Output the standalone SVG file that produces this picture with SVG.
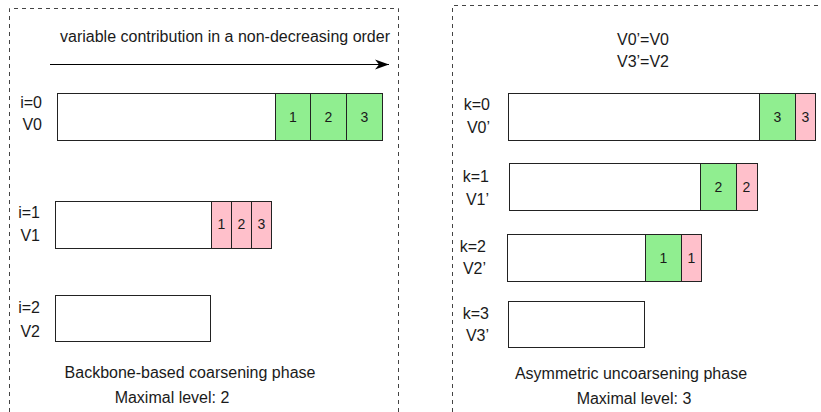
<svg xmlns="http://www.w3.org/2000/svg" width="821" height="412" viewBox="0 0 821 412">
<defs>
<marker id="arr" markerWidth="16" markerHeight="12" refX="14" refY="6" orient="auto" markerUnits="userSpaceOnUse">
<path d="M0,1 L14,6 L0,11 L4,6 Z" fill="#000"/>
</marker>
</defs>
<style>
text{font-family:"Liberation Sans",Arial,sans-serif;font-size:16px;fill:#1a1a1a}
.d{font-size:14px;text-anchor:middle}
.c{text-anchor:middle}
.e{text-anchor:end}
.w{fill:#fff;stroke:#222;stroke-width:1}
.g{fill:#90ee90;stroke:#222;stroke-width:1}
.p{fill:#ffc0cb;stroke:#222;stroke-width:1}
.frame{fill:none;stroke:#444;stroke-width:1;stroke-dasharray:4 4}
</style>
<rect width="821" height="412" fill="#fff"/>
<g id="left-panel">
<path class="frame" d="M9.5,420 V8.5 H398.5 V420"/>
<text x="60" y="42">variable contribution in a non-decreasing order</text>
<text class="c" x="190" y="378">Backbone-based coarsening phase</text>
<text class="c" x="172" y="403">Maximal level: 2</text>
</g>
<g id="right-panel">
<path class="frame" d="M452.5,420 V5.5 H830"/>
<text class="c" x="643" y="45">V0’=V0</text>
<text class="c" x="643" y="67">V3’=V2</text>
<text class="c" x="631" y="379">Asymmetric uncoarsening phase</text>
<text class="c" x="634" y="404">Maximal level: 3</text>
</g>
<g id="connectors">
<line x1="50" y1="64.5" x2="389" y2="64.5" stroke="#000" stroke-width="1.2" marker-end="url(#arr)"/>
</g>
<g id="row-i0">
<rect class="w" x="57.5" y="93.5" width="218" height="47"/>
<rect class="g" x="275.5" y="93.5" width="35" height="47"/>
<rect class="g" x="310.5" y="93.5" width="36" height="47"/>
<rect class="g" x="346.5" y="93.5" width="36" height="47"/>
<text class="d" x="293" y="122">1</text>
<text class="d" x="328.5" y="122">2</text>
<text class="d" x="364.5" y="122">3</text>
<text class="e" x="42" y="108">i=0</text>
<text class="e" x="42" y="130">V0</text>
</g>
<g id="row-i1">
<rect class="w" x="55.5" y="201.5" width="156" height="47"/>
<rect class="p" x="211.5" y="201.5" width="20" height="47"/>
<rect class="p" x="231.5" y="201.5" width="20" height="47"/>
<rect class="p" x="251.5" y="201.5" width="20" height="47"/>
<text class="d" x="221.5" y="229">1</text>
<text class="d" x="241.5" y="229">2</text>
<text class="d" x="261.5" y="229">3</text>
<text class="e" x="40" y="218">i=1</text>
<text class="e" x="40" y="241">V1</text>
</g>
<g id="row-i2">
<rect class="w" x="55.5" y="295.5" width="155" height="46"/>
<text class="e" x="40" y="313">i=2</text>
<text class="e" x="40" y="337">V2</text>
</g>
<g id="row-k0">
<rect class="w" x="508.5" y="93.5" width="251" height="47"/>
<rect class="g" x="759.5" y="93.5" width="36" height="47"/>
<rect class="p" x="795.5" y="93.5" width="20" height="47"/>
<text class="d" x="777.5" y="122">3</text>
<text class="d" x="805.5" y="122">3</text>
<text class="e" x="490" y="110">k=0</text>
<text class="e" x="490" y="133">V0’</text>
</g>
<g id="row-k1">
<rect class="w" x="509.5" y="163.5" width="191" height="47"/>
<rect class="g" x="700.5" y="163.5" width="36" height="47"/>
<rect class="p" x="736.5" y="163.5" width="21" height="47"/>
<text class="d" x="718.5" y="192">2</text>
<text class="d" x="746.5" y="192">2</text>
<text class="e" x="489" y="182">k=1</text>
<text class="e" x="489" y="205">V1’</text>
</g>
<g id="row-k2">
<rect class="w" x="507.5" y="234.5" width="138" height="47"/>
<rect class="g" x="645.5" y="234.5" width="36" height="47"/>
<rect class="p" x="681.5" y="234.5" width="20" height="47"/>
<text class="d" x="663.5" y="263">1</text>
<text class="d" x="691.5" y="263">1</text>
<text class="e" x="486" y="252">k=2</text>
<text class="e" x="486" y="274">V2’</text>
</g>
<g id="row-k3">
<rect class="w" x="508.5" y="301.5" width="136" height="46"/>
<text class="e" x="489" y="319">k=3</text>
<text class="e" x="489" y="341">V3’</text>
</g>
</svg>
